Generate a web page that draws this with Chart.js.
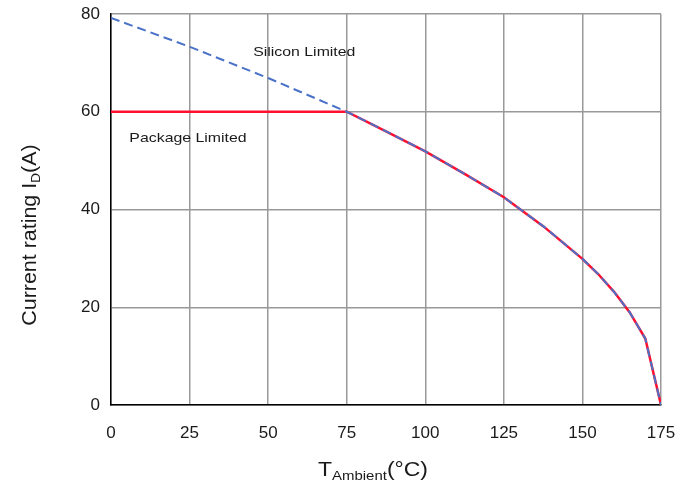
<!DOCTYPE html>
<html>
<head>
<meta charset="utf-8">
<script src="https://cdn.jsdelivr.net/npm/chart.js@4.4.1/dist/chart.umd.min.js"></script>
<style>
  html, body { margin: 0; padding: 0; background: #fff; }
  #wrap { width: 691px; height: 487px; }
</style>
</head>
<body>
<div id="wrap"><canvas id="myChart"></canvas></div>
<script>
// ambient temperature (°C) where the curve was read
var temps = [0, 25, 50, 75, 87.5, 100, 112.5, 125, 137.5, 150, 155, 160, 165, 170, 175];
// silicon limited current (A)
var siliconCurrent = [79.2, 73.3, 66.9, 60, 56.0, 51.9, 47.3, 42.5, 36.6, 29.9, 26.8, 23.2, 19.0, 13.6, 0];
// package limited current (A): flat 60 A then the silicon curve
var packageTemps = [0, 75, 87.5, 100, 112.5, 125, 137.5, 150, 155, 160, 165, 170, 175];
var packageCurrent = [60, 60, 56.0, 51.9, 47.3, 42.5, 36.6, 29.9, 26.8, 23.2, 19.0, 13.6, 0];

var xTicks = [0, 25, 50, 75, 100, 125, 150, 175];
var yTicks = [0, 20, 40, 60, 80];

// text labels placed on the plot, in data units
var notes = [
  { text: 'Silicon Limited', x: 61.5, y: 72.2 },
  { text: 'Package Limited', x: 24.5, y: 54.6 }
];

function pairs(xs, ys) {
  return xs.map(function(x, i) { return { x: x, y: ys[i] }; });
}

var FONT = '"Liberation Sans", Arial, sans-serif';

// draws text stretched sideways a bit, like the scanned original
function wideText(ctx, str, x, y, sx) {
  ctx.save();
  ctx.translate(x, y);
  ctx.scale(sx, 1);
  ctx.fillText(str, 0, 0);
  ctx.restore();
}

// draws the notes and the axis titles with subscripts
var extrasPlugin = {
  id: 'extras',
  afterDraw: function(chart) {
    var ctx = chart.ctx;
    var xs = chart.scales.x, ys = chart.scales.y;
    ctx.save();
    ctx.fillStyle = '#1a1a1a';
    ctx.font = '13px ' + FONT;
    ctx.textAlign = 'center';
    ctx.textBaseline = 'middle';
    notes.forEach(function(n) {
      wideText(ctx, n.text, xs.getPixelForValue(n.x), ys.getPixelForValue(n.y), 1.22);
    });

    // x title: T_Ambient(°C)
    var sx = 1.15;
    var big = '20px ' + FONT, small = '13px ' + FONT;
    ctx.textAlign = 'left';
    ctx.textBaseline = 'alphabetic';
    ctx.font = big; var w1 = ctx.measureText('T').width * sx;
    var w3 = ctx.measureText('(°C)').width * sx;
    ctx.font = small; var w2 = ctx.measureText('Ambient').width * sx;
    var total = w1 + w2 + w3;
    var cx = 373, base = 476;
    var x0 = cx - total / 2;
    ctx.font = big; wideText(ctx, 'T', x0, base, sx);
    ctx.font = small; wideText(ctx, 'Ambient', x0 + w1, base + 4, sx);
    ctx.font = big; wideText(ctx, '(°C)', x0 + w1 + w2, base, sx);

    // y title: Current rating I_D(A), rotated
    var sy = 1.07;
    ctx.translate(36, 235);
    ctx.rotate(-Math.PI / 2);
    ctx.font = big; var a = ctx.measureText('Current rating I').width * sy;
    var c = ctx.measureText('(A)').width * sy;
    ctx.font = small; var b = ctx.measureText('D').width * sy;
    var t2 = a + b + c;
    var y0 = -t2 / 2;
    ctx.font = big; wideText(ctx, 'Current rating I', y0, 0, sy);
    ctx.font = small; wideText(ctx, 'D', y0 + a, 4, sy);
    ctx.font = big; wideText(ctx, '(A)', y0 + a + b, 0, sy);
    ctx.restore();
  }
};

var ctx = document.getElementById('myChart').getContext('2d');
var chart = new Chart(ctx, {
  type: 'line',
  data: {
    datasets: [{
      label: 'Silicon Limited',
      data: pairs(temps, siliconCurrent),
      borderColor: '#4a72c8',
      borderWidth: 2,
      borderDash: [9, 5],
      pointRadius: 0,
      fill: false,
      tension: 0,
      order: 1
    }, {
      label: 'Package Limited',
      data: pairs(packageTemps, packageCurrent),
      borderColor: '#ff1030',
      borderWidth: 2.5,
      pointRadius: 0,
      fill: false,
      tension: 0,
      order: 2
    }]
  },
  options: {
    responsive: true,
    maintainAspectRatio: false,
    animation: false,
    layout: { padding: { left: 71, right: 30, top: 14, bottom: 0 } },
    plugins: { legend: { display: false }, tooltip: { enabled: false } },
    scales: {
      x: {
        type: 'linear',
        min: 0, max: 175,
        afterFit: function(s) { s.height = 82; s.paddingLeft = 0; s.paddingRight = 0; },
        afterBuildTicks: function(s) { s.ticks = xTicks.map(function(v) { return { value: v }; }); },
        grid: { color: '#999', lineWidth: 1.5, drawTicks: false },
        border: { color: '#000', width: 1.5 },
        ticks: { color: '#1a1a1a', padding: 18, font: { size: 17, family: FONT }, maxRotation: 0 }
      },
      y: {
        min: 0, max: 80,
        afterFit: function(s) { s.width = 40; s.paddingTop = 0; s.paddingBottom = 0; },
        afterBuildTicks: function(s) { s.ticks = yTicks.map(function(v) { return { value: v }; }); },
        grid: { color: '#999', lineWidth: 1.5, drawTicks: false },
        border: { color: '#000', width: 1.5 },
        ticks: { color: '#1a1a1a', padding: 11, font: { size: 17, family: FONT } }
      }
    }
  },
  plugins: [extrasPlugin]
});
</script>
</body>
</html>
